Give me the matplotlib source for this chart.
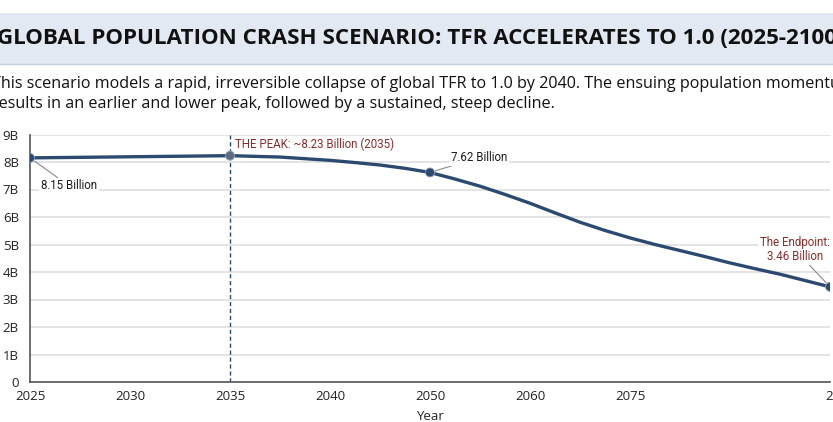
import numpy as np
import matplotlib
matplotlib.use("Agg")
import matplotlib.pyplot as plt
import matplotlib.transforms as mtransforms
from matplotlib import font_manager

# x axis is categorical with uneven spacing (2075 -> 2100 takes two slots)
tick_years = [2025, 2030, 2035, 2040, 2050, 2060, 2075, 2100]
tick_slots = [0, 1, 2, 3, 4, 5, 6, 8]

# population curve (billions)
years = [2025, 2030, 2035, 2037.5, 2040, 2042.5, 2045, 2047.5, 2050,
         2052.5, 2055, 2057.5, 2060, 2063.75, 2067.5, 2071.25, 2075,
         2078.125, 2081.25, 2084.375, 2087.5, 2090.625, 2093.75, 2096.875, 2100]
population = [8.15, 8.19, 8.23, 8.18, 8.06, 7.98, 7.89, 7.77, 7.62,
              7.38, 7.12, 6.82, 6.50, 6.15, 5.81, 5.51, 5.24,
              5.00, 4.78, 4.56, 4.33, 4.12, 3.92, 3.69, 3.46]

marker_years = [2025, 2035, 2050, 2100]
marker_values = [8.15, 8.23, 7.62, 3.46]

y_ticks = [0, 1, 2, 3, 4, 5, 6, 7, 8, 9]

title = "GLOBAL POPULATION CRASH SCENARIO: TFR ACCELERATES TO 1.0 (2025-2100)"
subtitle = ("This scenario models a rapid, irreversible collapse of global TFR to 1.0 by 2040. "
            "The ensuing population momentum\n"
            "results in an earlier and lower peak, followed by a sustained, steep decline.")

NAVY = "#2c4a70"
RED = "#8b2b2b"

# narrow face for the annotations if there is one
names = {f.name for f in font_manager.fontManager.ttflist}
if "Liberation Sans Narrow" in names:
    ann_font = dict(family="Liberation Sans Narrow", fontsize=10)
else:
    ann_font = dict(family="Roboto", fontsize=8.3)


def to_slot(y):
    return np.interp(y, tick_years, tick_slots)


fig = plt.figure(figsize=(8.33, 4.22), dpi=100)
W, H = 833, 422

# title band
band = fig.add_axes([0, 1 - 63.5 / H, 1, (63.5 - 12.5) / H])
band.set_facecolor("#e3e9f2")
band.set_xticks([])
band.set_yticks([])
for s in ["top", "left", "right"]:
    band.spines[s].set_visible(False)
band.spines["bottom"].set_color("#c5cfdc")
band.spines["bottom"].set_linewidth(1.0)

fig.text(421 / W, 1 - 39 / H, title, ha="center", va="center",
         fontsize=16.1, fontweight="bold", family="Open Sans", color="#111111")
fig.text(-8 / W, 1 - 94 / H, subtitle, ha="left", va="center",
         fontsize=11.6, family="Open Sans", color="#111111", linespacing=1.3)

ax = fig.add_axes([30 / W, 1 - 382 / H, 800 / W, (382 - 134.5) / H])
ax.set_xlim(0, 8)
ax.set_ylim(0, 9)

ax.plot(to_slot(years), population, color=NAVY, lw=2.4,
        solid_capstyle="round", solid_joinstyle="round", zorder=3)
mx = to_slot(marker_years)
ax.scatter(mx, marker_values, s=42, color=[NAVY, "#5b6b82", NAVY, NAVY],
           edgecolor="#8fa0b8", linewidth=0.6, zorder=4)

# peak line
ax.axvline(to_slot(2035), color=NAVY, lw=1.0, ls=(0, (3, 2)), zorder=2)

ax.set_yticks(y_ticks)
ax.set_yticklabels([f"{v}B" if v else "0" for v in y_ticks])
ax.set_xticks(tick_slots)
ax.set_xticklabels([str(y) for y in tick_years])
ax.tick_params(length=0, labelsize=9.5, labelcolor="#222222", pad=6)
ax.tick_params(axis="y", pad=8)
for lab in ax.get_xticklabels() + ax.get_yticklabels():
    lab.set_family("Open Sans")
# last label sits a little right of its slot in the reference
last = ax.get_xticklabels()[-1]
last.set_transform(last.get_transform() +
                   mtransforms.ScaledTranslation(10 / 100, 0, fig.dpi_scale_trans))

ax.grid(axis="y", color="#e2e2e2", lw=1.3)
ax.set_axisbelow(True)
for s in ["top", "right"]:
    ax.spines[s].set_visible(False)
for s in ["left", "bottom"]:
    ax.spines[s].set_color("#555555")
    ax.spines[s].set_linewidth(1.2)

ax.set_xlabel("Year", family="Open Sans", fontsize=9.5, color="#222222", labelpad=5)

box = dict(boxstyle="square,pad=0.15", fc="white", ec="none")
lead = dict(arrowstyle="-", color="#8a8a8a", lw=0.8, shrinkA=0, shrinkB=4)

ax.annotate("8.15 Billion", xy=(mx[0], marker_values[0]), xytext=(11, -28),
            textcoords="offset pixels", ha="left", va="center", color="#1a1a1a",
            bbox=box, arrowprops=lead, **ann_font)
ax.annotate("THE PEAK: ~8.23 Billion (2035)", xy=(mx[1], marker_values[1]), xytext=(5, 11),
            textcoords="offset pixels", ha="left", va="center", color=RED,
            bbox=box, **ann_font)
ax.annotate("7.62 Billion", xy=(mx[2], marker_values[2]), xytext=(21, 15),
            textcoords="offset pixels", ha="left", va="center", color="#1a1a1a",
            bbox=box, arrowprops=lead, **ann_font)
ax.annotate("The Endpoint:\n3.46 Billion", xy=(mx[3], marker_values[3]), xytext=(-35, 37),
            textcoords="offset pixels", ha="center", va="center", color=RED,
            bbox=box, arrowprops=lead, linespacing=1.1, **ann_font)

fig.savefig("out.png", dpi=100)
